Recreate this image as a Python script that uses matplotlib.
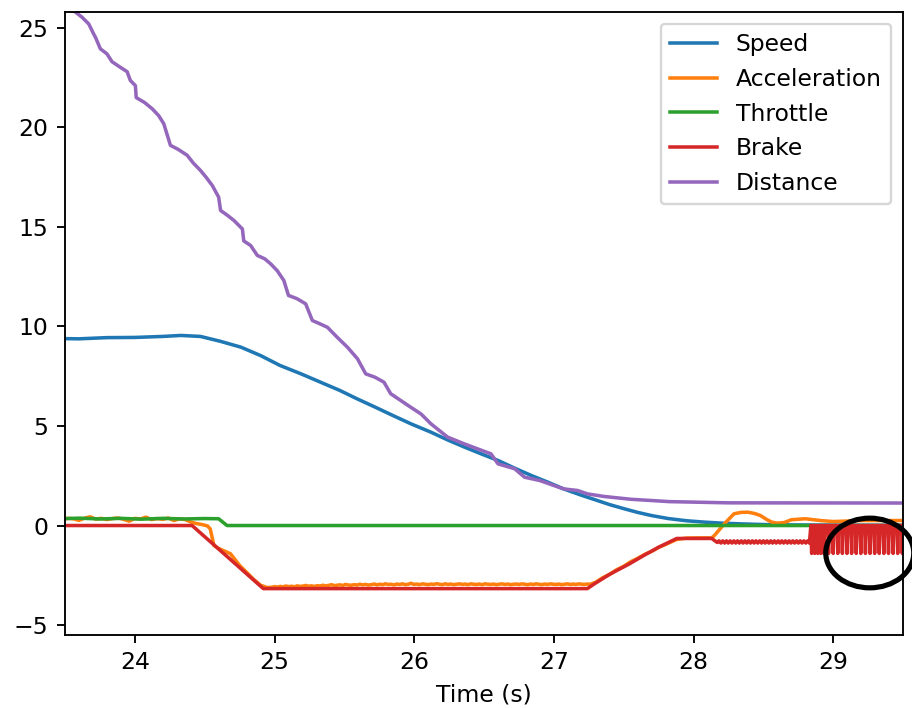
import numpy as np
import matplotlib
matplotlib.use("Agg")
import matplotlib.pyplot as plt
from matplotlib.patches import Ellipse

DPI = 169
fig = plt.figure(figsize=(912 / DPI, 708 / DPI), dpi=DPI)
ax = fig.add_axes([65 / 912, 73 / 708, 838 / 912, 623 / 708])

# ---------------- data ----------------
speed_t = [23.4, 23.6, 23.8, 24.0, 24.2, 24.33, 24.47, 24.61, 24.76, 24.9, 25.04, 25.19,
           25.33, 25.47, 25.59, 25.72, 25.85, 25.98, 26.12, 26.24, 26.36, 26.48, 26.6, 26.72,
           26.84, 26.96, 27.07, 27.19, 27.31, 27.4, 27.5, 27.6, 27.7, 27.82, 27.95, 28.08,
           28.2, 28.35, 28.5, 28.7, 29.0, 29.6]
speed_v = [9.40, 9.38, 9.44, 9.45, 9.50, 9.55, 9.50, 9.26, 8.96, 8.54, 8.04, 7.62,
           7.2, 6.78, 6.37, 5.95, 5.52, 5.1, 4.69, 4.3, 3.94, 3.6, 3.27, 2.88,
           2.51, 2.17, 1.84, 1.54, 1.26, 1.05, 0.85, 0.66, 0.5, 0.35, 0.24, 0.17,
           0.12, 0.08, 0.05, 0.03, 0.02, 0.01]

acc_start_v = [0.33, 0.40, 0.30, 0.36, 0.34, 0.26, 0.37, 0.44, 0.32, 0.36, 0.30, 0.35, 0.38,
               0.31, 0.22, 0.36, 0.33, 0.42, 0.30, 0.35, 0.31, 0.38, 0.25, 0.34, 0.30, 0.18, 0.10]
acc_drop_t = [24.48, 24.52, 24.54, 24.566, 24.6, 24.685, 24.75, 24.8, 24.85, 24.9, 24.95]
acc_drop_v = [0.05, -0.02, -0.17, -1.0, -1.15, -1.42, -2.0, -2.35, -2.7, -3.0, -3.12]
acc_flat_v = [-3.10, -3.07, -3.09, -3.06, -3.08, -3.04, -3.07, -3.05, -3.08, -3.03, -3.06,
              -3.04, -3.01, -3.05, -3.03, -3.06, -3.02, -3.04, -3.00, -3.03, -3.01, -2.97,
              -3.02, -3.00, -2.98, -3.01, -2.96, -2.99, -3.00, -2.97, -2.99, -2.95, -2.98,
              -2.96, -2.99, -2.97, -2.94, -2.98, -2.95, -2.97, -2.93, -2.96, -2.95, -2.98,
              -2.94, -2.96, -2.93, -2.97, -2.95, -2.90, -2.96, -2.94, -2.97, -2.93, -2.95,
              -2.97, -2.94, -2.96, -2.92, -2.95, -2.97, -2.93, -2.96, -2.94, -2.97, -2.95,
              -2.93, -2.96, -2.94, -2.97, -2.93, -2.95, -2.96, -2.94, -2.97, -2.93, -2.95,
              -2.96, -2.94, -2.97, -2.95, -2.93, -2.96, -2.94, -2.97, -2.95, -2.94, -2.96,
              -2.93, -2.95, -2.97, -2.94, -2.96, -2.93, -2.95, -2.97, -2.94, -2.96, -2.93,
              -2.95, -2.96, -2.94, -2.97, -2.95, -2.93, -2.96, -2.94, -2.96, -2.93, -2.95,
              -2.96, -2.94, -2.95]
acc_end_t = [27.3, 27.35, 27.4, 27.45, 27.5, 27.55, 27.6, 27.65, 27.7, 27.75, 27.8, 27.88,
             27.95, 28.05, 28.13, 28.15, 28.22, 28.29, 28.34, 28.39, 28.44, 28.48, 28.52,
             28.56, 28.6, 28.65, 28.7, 28.8, 28.91, 29.0, 29.2, 29.5, 29.6]
acc_end_v = [-2.85, -2.62, -2.45, -2.22, -2.05, -1.82, -1.65, -1.45, -1.3, -1.1, -0.95, -0.7,
             -0.63, -0.62, -0.62, -0.5, 0.08, 0.59, 0.66, 0.67, 0.6, 0.5, 0.32,
             0.17, 0.12, 0.15, 0.29, 0.34, 0.25, 0.2, 0.25, 0.25, 0.25]

thr_t = [23.4, 23.6, 23.75, 23.9, 24.05, 24.2, 24.35, 24.5, 24.6, 24.66, 29.6]
thr_v = [0.33, 0.37, 0.33, 0.36, 0.32, 0.36, 0.33, 0.35, 0.34, 0.0, 0.0]

brake_t = [23.4, 24.41, 24.92, 27.24, 27.29, 27.4, 27.54, 27.65, 27.75, 27.88, 28.13, 28.17]
brake_v = [0.0, 0.0, -3.17, -3.17, -2.93, -2.45, -1.93, -1.48, -1.09, -0.65, -0.65, -0.85]
zig_t = [28.183, 28.196, 28.210, 28.223, 28.236, 28.249, 28.262, 28.276, 28.289, 28.302,
         28.315, 28.328, 28.342, 28.355, 28.368, 28.381, 28.394, 28.408, 28.421, 28.434,
         28.447, 28.460, 28.474, 28.487, 28.500, 28.513, 28.526, 28.540, 28.553, 28.566,
         28.579, 28.592, 28.606, 28.619, 28.632, 28.645, 28.658, 28.672, 28.685, 28.698,
         28.711, 28.724, 28.738, 28.751, 28.764, 28.777, 28.790, 28.804, 28.817, 28.830]
zig_v = [-0.77, -0.88] * 25
dip_t = [28.846, 28.868, 28.890, 28.912, 28.934, 28.967, 29.000, 29.033, 29.066, 29.099,
         29.132, 29.165, 29.198, 29.231, 29.264, 29.297, 29.330, 29.363, 29.396, 29.429,
         29.462, 29.495]
dip_depth = -1.4

dist_t = [23.45, 23.574, 23.62, 23.67, 23.705, 23.72, 23.753, 23.80, 23.837, 23.89, 23.945,
          23.968, 24.004, 24.01, 24.07, 24.124, 24.17, 24.207, 24.255, 24.31, 24.375, 24.42,
          24.47, 24.51, 24.554, 24.60, 24.614, 24.66, 24.709, 24.77, 24.78, 24.829, 24.877,
          24.93, 24.972, 25.02, 25.067, 25.10, 25.16, 25.223, 25.271, 25.32, 25.379, 25.45,
          25.522, 25.594, 25.653, 25.72, 25.784, 25.832, 25.9, 25.976, 26.05, 26.12, 26.24,
          26.36, 26.55, 26.6, 26.72, 26.79, 26.9, 27.07, 27.17, 27.24, 27.36, 27.55, 27.83,
          28.25, 29.6]
dist_v = [26.3, 25.8, 25.55, 25.2, 24.7, 24.5, 23.95, 23.7, 23.3, 23.05, 22.8,
          22.36, 22.1, 21.5, 21.25, 20.94, 20.6, 20.19, 19.1, 18.9, 18.6, 18.2,
          17.84, 17.5, 17.09, 16.5, 15.83, 15.6, 15.33, 14.9, 14.3, 14.07, 13.57,
          13.4, 13.15, 12.8, 12.31, 11.56, 11.4, 11.14, 10.30, 10.15, 9.96, 9.45,
          8.96, 8.38, 7.62, 7.45, 7.20, 6.62, 6.3, 5.94, 5.6, 5.11, 4.44,
          4.1, 3.6, 3.1, 2.85, 2.43, 2.26, 1.84, 1.76, 1.59, 1.46, 1.32, 1.2,
          1.14, 1.13]

# ---------------- assemble series ----------------
acc_t = list(np.linspace(23.4, 24.44, len(acc_start_v))) + acc_drop_t + \
    list(np.linspace(24.98, 27.26, len(acc_flat_v))) + acc_end_t
acc_v = acc_start_v + acc_drop_v + acc_flat_v + acc_end_v

bt = list(brake_t) + zig_t
bv = list(brake_v) + zig_v
for td in dip_t:
    bt += [td - 0.0055, td, td + 0.0055]
    bv += [0.0, dip_depth, 0.0]

ax.plot(speed_t, speed_v, label="Speed")
ax.plot(acc_t, acc_v, label="Acceleration")
ax.plot(thr_t, thr_v, label="Throttle")
ax.plot(bt, bv, label="Brake")
ax.plot(dist_t, dist_v, label="Distance")

ax.set_xlim(23.5, 29.5)
ax.set_ylim(-5.5, 25.8)
ax.set_xlabel("Time (s)")
ax.legend(loc="upper right")

ell = Ellipse((29.262, -1.38), 0.63, 3.5, fill=False, edgecolor="black", lw=2.2,
              clip_on=False, zorder=10)
ax.add_patch(ell)

fig.savefig("out.png", dpi=DPI)
